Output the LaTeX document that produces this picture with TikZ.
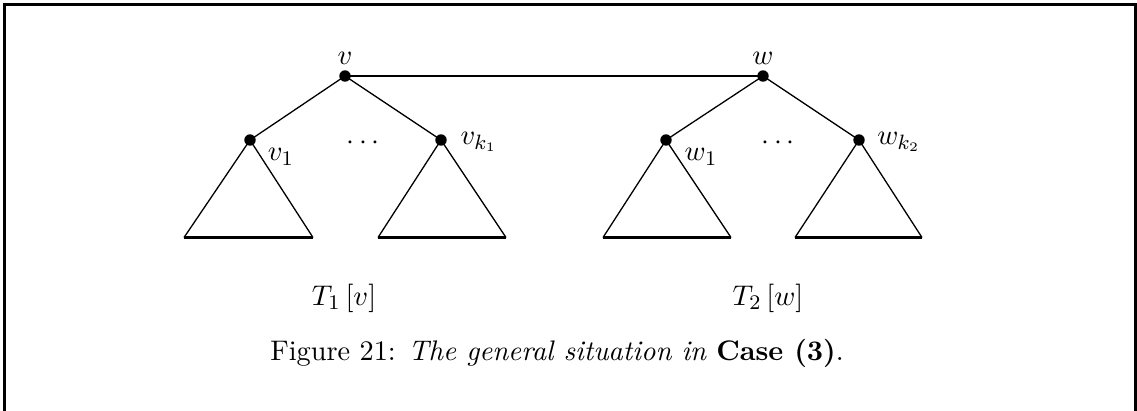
\documentclass[tikz,border=0pt]{standalone}
\usetikzlibrary{calc}
\begin{document}
\begin{tikzpicture}[x=0.385pt,y=-0.385pt,
  every node/.style={font=\fontsize{10.9}{13}\selectfont},
  dotnode/.style={circle,fill=black,inner sep=0pt,minimum size=4.4pt},
  edge/.style={line width=0.5pt},
  bridge/.style={line width=0.85pt},
  basel/.style={line width=1.15pt},
  lbl/.style={inner sep=0pt}]
\useasboundingbox (0,0) rectangle (1137,410);
\draw[line width=1.2pt] (4.5,420) -- (4.5,4.5) -- (1135.5,4.5) -- (1135.5,420);
% nodes
\node[dotnode] (v) at (345,76) {};
\node[dotnode] (w) at (763,76) {};
\node[dotnode] (v1) at (250,140) {};
\node[dotnode] (vk) at (441,140) {};
\node[dotnode] (w1) at (666,140) {};
\node[dotnode] (wk) at (859,140) {};
% base corners
\coordinate (a1) at (184,237.5); \coordinate (b1) at (313,237.5);
\coordinate (a2) at (378,237.5); \coordinate (b2) at (506,237.5);
\coordinate (a3) at (603,237.5); \coordinate (b3) at (731,237.5);
\coordinate (a4) at (795,237.5); \coordinate (b4) at (922,237.5);
% edges
\draw[bridge] (v.center) -- (w.center);
\draw[edge] (v.center) -- (v1.center);
\draw[edge] (v.center) -- (vk.center);
\draw[edge] (w.center) -- (w1.center);
\draw[edge] (w.center) -- (wk.center);
% triangles
\draw[edge] (a1) -- (v1.center) -- (b1);
\draw[edge] (a2) -- (vk.center) -- (b2);
\draw[edge] (a3) -- (w1.center) -- (b3);
\draw[edge] (a4) -- (wk.center) -- (b4);
\draw[basel] (a1) -- (b1);
\draw[basel] (a2) -- (b2);
\draw[basel] (a3) -- (b3);
\draw[basel] (a4) -- (b4);
% labels
\node[lbl] (lv) at (345,58) {$v$};
\node[lbl] (lw) at (763,58) {$w$};
\node[lbl] (lv1) at (281,157) {$v_1$};
\node[lbl] (lvk) at (479,142) {$v_{k_1}$};
\node[lbl] (lw1) at (701,157) {$w_1$};
\node[lbl] (lwk) at (899,142) {$w_{k_2}$};
\node[lbl] (d1) at (363,143) {$\cdots$};
\node[lbl] (d2) at (778,143) {$\cdots$};
\node[lbl] (t1) at (344,298) {$T_1\,[v]$};
\node[lbl] (t2) at (768,298) {$T_2\,[w]$};
\node[lbl] (cap) at (557,353) {Figure 21: \textit{The general situation in} \textbf{Case (3)}.};
\end{tikzpicture}
\end{document}
